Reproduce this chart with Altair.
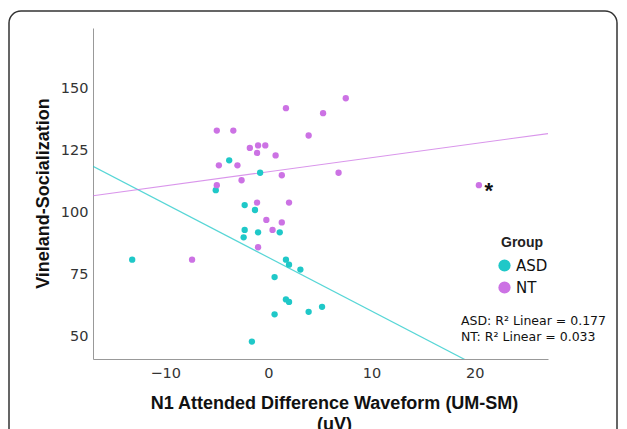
import altair as alt
import pandas as pd

# ---- data ----
asd_x = [-13.2, -3.8, -5.1, -0.8, -2.3, -1.3, -2.3, -2.4, -1.0, 1.1,
         1.7, 2.0, 3.1, 0.6, 1.7, 2.0, 0.6, 3.9, -1.6, 5.2]
asd_y = [81, 121, 109, 116, 103, 101, 93, 90, 92, 92,
         81, 79, 77, 74, 65, 64, 59, 60, 48, 62]
nt_x = [-7.4, -5.0, -3.4, 1.7, 3.9, -1.8, -1.0, -0.3, -1.1, 0.7,
        -4.8, -3.0, -2.6, 1.3, -5.0, -1.1, 2.0, -0.2, 1.3, 0.4,
        -1.0, 7.5, 5.3, 6.8, 20.4]
nt_y = [81, 133, 133, 142, 131, 126, 127, 127, 124, 123,
        119, 119, 113, 115, 111, 104, 104, 97, 96, 93,
        86, 146, 140, 116, 111]

groups = ["ASD", "NT"]
colors = ["#1fc8c8", "#cc72e4"]
fit_intercept = [81.9, 116.4]
fit_slope = [-2.16, 0.568]
r2_labels = ["ASD: R\u00b2 Linear = 0.177", "NT: R\u00b2 Linear = 0.033"]

x_domain = [-17.0, 27.1]
y_domain = [41.0, 174.3]
x_ticks = [-10, 0, 10, 20]
y_ticks = [50, 75, 100, 125, 150]

W, H = 455, 331

pts = pd.DataFrame({
    "x": asd_x + nt_x,
    "y": asd_y + nt_y,
    "Group": ["ASD"] * len(asd_x) + ["NT"] * len(nt_x),
})

fit_rows = []
for g, b0, b1 in zip(groups, fit_intercept, fit_slope):
    for xv in x_domain:
        fit_rows.append({"x": xv, "y": b0 + b1 * xv, "Group": g})
fits = pd.DataFrame(fit_rows)

i_out = nt_x.index(max(nt_x))
star = pd.DataFrame({"x": [nt_x[i_out]], "y": [nt_y[i_out]], "t": ["*"]})

tick_font = "DejaVu Sans"
title_font = "Liberation Sans"

xs = alt.Scale(domain=x_domain, nice=False, zero=False)
ys = alt.Scale(domain=y_domain, nice=False, zero=False)
cs = alt.Scale(domain=groups, range=colors)

X = alt.X("x:Q", scale=xs, axis=alt.Axis(
    values=x_ticks, title=["N1 Attended Difference Waveform (UM-SM)", "(uV)"],
    titleX=241, titleY=49, titleAlign="center", titleBaseline="alphabetic",
    titleLineHeight=21, labelPadding=7))
Y = alt.Y("y:Q", scale=ys, axis=alt.Axis(
    values=y_ticks, title="Vineland-Socialization",
    titleAngle=270, titleX=-45, titleY=165, titleAlign="center",
    titleBaseline="alphabetic", labelPadding=5))
C = alt.Color("Group:N", scale=cs, legend=alt.Legend(
    title="Group", orient="none", legendX=404, legendY=208,
    symbolType="circle", symbolSize=150, symbolOpacity=1,
    symbolStrokeWidth=0,
    titleFont=title_font, titleFontSize=14, titleFontWeight="bold",
    titleColor="#222", titleAnchor="middle",
    labelFont=tick_font, labelFontSize=15, labelColor="#111",
    rowPadding=6, titlePadding=8))

points = alt.Chart(pts).mark_circle(size=40, opacity=1).encode(x=X, y=Y, color=C)

lines = alt.Chart(fits).mark_line(strokeWidth=1.2, strokeOpacity=0.75, clip=True).encode(
    x=X, y=Y, color=C, detail="Group:N",
)

star_mark = alt.Chart(star).mark_text(
    dx=10, dy=6, fontSize=22, fontWeight="bold", color="#111", font=title_font
).encode(x=X, y=Y, text="t:N")

ann1 = alt.Chart(pd.DataFrame({"t": [r2_labels[0]]})).mark_text(
    align="left", baseline="middle", fontSize=12.5, font=tick_font, color="#111"
).encode(x=alt.value(368), y=alt.value(293), text="t:N")
ann2 = alt.Chart(pd.DataFrame({"t": [r2_labels[1]]})).mark_text(
    align="left", baseline="middle", fontSize=12.5, font=tick_font, color="#111"
).encode(x=alt.value(368), y=alt.value(309), text="t:N")

frame = alt.Chart(pd.DataFrame({"a": [0]})).mark_rect(
    fillOpacity=0, stroke="#333", strokeWidth=1.5, cornerRadius=12
).encode(
    x=alt.value(-84), x2=alt.value(W + 69),
    y=alt.value(-17), y2=alt.value(H + 120),
)

chart = alt.layer(frame, lines, points, star_mark, ann1, ann2).properties(
    width=W, height=H,
    autosize=alt.AutoSizeParams(type="none"),
    padding={"left": 85, "top": 20, "right": 71, "bottom": 70},
).configure_view(stroke=None).configure_axis(
    grid=False, ticks=False, domainColor="#999", domainWidth=1,
    labelFont=tick_font, labelFontSize=14.5, labelColor="#333",
    titleFont=title_font, titleFontSize=18, titleFontWeight="bold", titleColor="#111",
)

chart.save("out.html", embed_options={"renderer": "svg", "actions": False})
